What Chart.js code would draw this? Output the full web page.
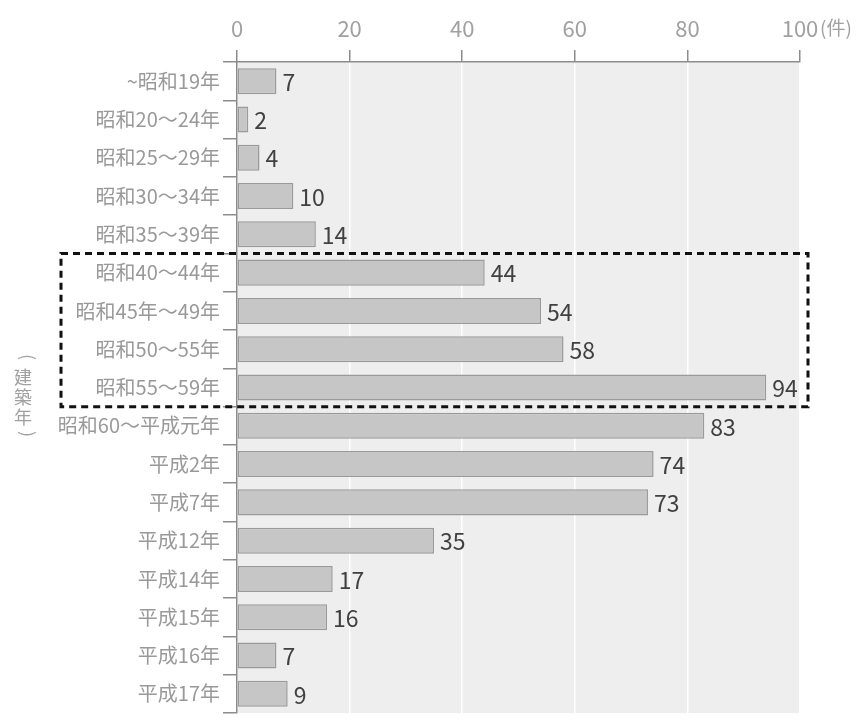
<!DOCTYPE html>
<html>
<head>
<meta charset="utf-8">
<script src="https://cdn.jsdelivr.net/npm/chart.js@4"></script>
<style>
  html, body { margin: 0; padding: 0; background: #fff; overflow: hidden; }
  #wrap { width: 865px; height: 728px; position: relative; }
</style>
</head>
<body>
<div id="wrap"><canvas id="myChart"></canvas></div>
<script>
// data
const categories = [
  "~昭和19年", "昭和20～24年", "昭和25～29年", "昭和30～34年", "昭和35～39年",
  "昭和40～44年", "昭和45年～49年", "昭和50～55年", "昭和55～59年",
  "昭和60～平成元年", "平成2年", "平成7年", "平成12年", "平成14年",
  "平成15年", "平成16年", "平成17年"
];
const counts = [7, 2, 4, 10, 14, 44, 54, 58, 94, 83, 74, 73, 35, 17, 16, 7, 9];
const xTicks = [0, 20, 40, 60, 80, 100];
const unitLabel = "(件)";
const axisTitle = ["建", "築", "年"];
const boxFrom = 5, boxTo = 8;   // highlighted rows

const FONT = "'Noto Sans CJK JP', 'Noto Sans', sans-serif";

// grey panel behind the bars
const panelBg = {
  id: "panelBg",
  beforeDraw(chart) {
    const { ctx, chartArea: a } = chart;
    ctx.save();
    ctx.fillStyle = "#eeeeee";
    ctx.fillRect(a.left, a.top, a.right - a.left, a.bottom - a.top);
    ctx.restore();
  }
};

// rotated bracket for the vertical title
function bracket(ctx, ch, x, y) {
  ctx.save();
  ctx.translate(x, y);
  ctx.rotate(Math.PI / 2);
  ctx.fillText(ch, 0, 0);
  ctx.restore();
}

// value labels, unit, axis title, dashed box
const extras = {
  id: "extras",
  afterDatasetsDraw(chart) {
    const ctx = chart.ctx;
    const meta = chart.getDatasetMeta(0);
    ctx.save();
    ctx.font = "23px " + FONT;
    ctx.fillStyle = "#404040";
    ctx.textBaseline = "middle";
    ctx.textAlign = "left";
    meta.data.forEach((bar, i) => {
      ctx.fillText(String(counts[i]), bar.x + 6, bar.y + 1);
    });
    ctx.restore();
  },
  afterDraw(chart) {
    const ctx = chart.ctx;
    const x = chart.scales.x, y = chart.scales.y;
    ctx.save();
    // unit next to 100
    ctx.font = "19px " + FONT;
    ctx.fillStyle = "#a0a0a0";
    ctx.textBaseline = "middle";
    ctx.textAlign = "left";
    ctx.fillText(unitLabel, x.getPixelForValue(100) + 20, 28);

    // vertical axis title
    ctx.font = "18px " + FONT;
    ctx.textAlign = "center";
    bracket(ctx, "(", 28, 357);
    axisTitle.forEach((ch, i) => {
      ctx.fillText(ch, 23, 377 + i * 20);
    });
    bracket(ctx, ")", 28, 434);

    // dashed box
    const half = (y.getPixelForValue(1) - y.getPixelForValue(0)) / 2;
    const top = y.getPixelForValue(boxFrom) - half;
    const bottom = y.getPixelForValue(boxTo) + half;
    ctx.strokeStyle = "#111";
    ctx.lineWidth = 3;
    ctx.setLineDash([7, 5]);
    ctx.strokeRect(61, top, x.getPixelForValue(100) + 8 - 61, bottom - top);
    ctx.restore();
  }
};

new Chart(document.getElementById("myChart"), {
  type: "bar",
  data: {
    labels: categories,
    datasets: [{
      data: counts,
      backgroundColor: "#c6c6c6",
      borderColor: "#9a9a9a",
      borderWidth: 1.5,
      borderSkipped: false,
      barPercentage: 0.68,
      categoryPercentage: 1
    }]
  },
  options: {
    indexAxis: "y",
    responsive: true,
    maintainAspectRatio: false,
    animation: false,
    layout: { padding: { left: 0, right: 65, top: 0, bottom: 0 } },
    plugins: { legend: { display: false }, tooltip: { enabled: false } },
    scales: {
      x: {
        position: "top",
        min: 0,
        max: 100,
        afterBuildTicks: s => { s.ticks = xTicks.map(v => ({ value: v })); },
        afterFit: s => { s.height = 62; },
        ticks: { color: "#a0a0a0", font: { family: FONT, size: 22 }, padding: 8 },
        grid: { color: "#ffffff", lineWidth: 1.5, tickColor: "#8c8c8c", tickLength: 12 },
        border: { color: "#8c8c8c", width: 1.5 }
      },
      y: {
        afterFit: s => { s.width = 237; },
        ticks: { color: "#999", font: { family: FONT, size: 20 }, padding: 3, autoSkip: false },
        grid: { drawOnChartArea: false, tickColor: "#8c8c8c", tickLength: 14, lineWidth: 1.5 },
        border: { color: "#8c8c8c", width: 1.5 }
      }
    }
  },
  plugins: [panelBg, extras]
});
</script>
</body>
</html>
